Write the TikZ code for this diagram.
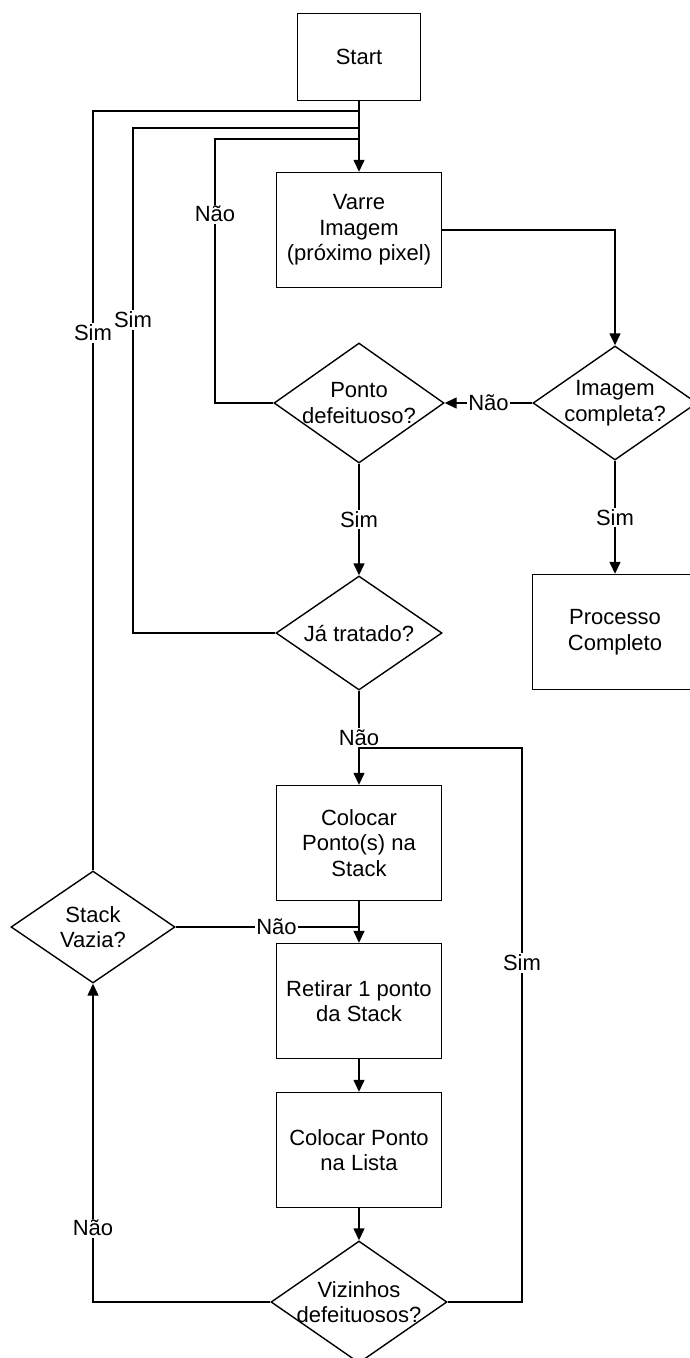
\documentclass[tikz,border=0pt]{standalone}
\usepackage{fontspec}
\setmainfont{Liberation Sans}
\usetikzlibrary{shapes.geometric,arrows.meta}
\definecolor{ink}{HTML}{000000}
\newcommand\flowfont{\fontsize{22}{25.5}\selectfont}
\tikzset{
  box/.style={draw=ink, line width=1.4pt, rectangle, inner sep=0pt, minimum width=165pt, minimum height=115pt, align=center, font=\flowfont},
  dec/.style={draw=ink, line width=1.4pt, diamond, inner sep=0pt, minimum width=166pt, minimum height=114pt},
  dtext/.style={align=center, font=\flowfont, inner sep=0pt},
  link/.style={draw=ink, line width=1.4pt},
  flow/.style={link, -{Triangle[length=12pt,width=11pt]}},
  lab/.style={fill=white, inner sep=1.5pt, font=\flowfont},
}

\begin{document}
\begin{tikzpicture}[x=1pt,y=-1pt]
  \useasboundingbox (0,0) rectangle (689,1358);
  % blocks
  \node[box,minimum width=123pt,minimum height=87pt] (start) at (359,57) {Start};
  \node[box] (varre) at (359,230) {Varre\\Imagem\\(próximo pixel)};
  \node[dec,minimum width=170pt,minimum height=120pt,label={[dtext]center:{Ponto\\defeituoso?}}] (ponto) at (359,403) {};
  \node[dec,minimum width=164pt,label={[dtext]center:{Imagem\\completa?}}] (imagem) at (615,403) {};
  \node[dec,label={[dtext]center:{Já tratado?}}] (tratado) at (359,633) {};
  \node[box] (fim) at (615,632) {Processo\\Completo};
  \node[box] (pilha) at (359,843) {Colocar\\Ponto(s) na\\Stack};
  \node[box] (retira) at (359,1001) {Retirar 1 ponto\\da Stack};
  \node[box] (lista) at (359,1150) {Colocar Ponto\\na Lista};
  \node[dec,minimum width=176pt,minimum height=122pt,label={[dtext]center:{Vizinhos\\defeituosos?}}] (viz) at (359,1302) {};
  \node[dec,minimum width=164pt,minimum height=112pt,label={[dtext]center:{Stack\\Vazia?}}] (vazia) at (93,927) {};

  % junctions on the main line
  \coordinate (jA) at (359,111);
  \coordinate (jB) at (359,128);
  \coordinate (jC) at (359,139);
  \coordinate (jD) at (359,748);
  \coordinate (jE) at (359,927);

  % connectors
  \draw[flow] (start) -- (varre);
  \draw[link] (vazia.north) -- (93,333) node[lab] (s1) {Sim} |- (jA);
  \draw[link] (tratado.west) -| (133,320) node[lab] (s2) {Sim} |- (jB);
  \draw[link] (ponto.west) -| (215,214) node[lab] (n1) {Não} |- (jC);
  \draw[flow] (varre.east) -| (imagem.north);
  \draw[flow] (imagem.west) -- node[lab] (n2) {Não} (ponto.east);
  \draw[flow] (imagem.south) -- node[lab] (s3) {Sim} (fim.north);
  \draw[flow] (ponto.south) -- node[lab] (s4) {Sim} (tratado.north);
  \draw[flow] (tratado.south) -- node[lab] (n3) {Não} (pilha.north);
  \draw[link] (viz.east) -| (522,963) node[lab] (s5) {Sim} |- (jD);
  \draw[flow] (pilha) -- (retira);
  \draw[link] (vazia.east) -- node[lab,pos=0.55] (n4) {Não} (jE);
  \draw[flow] (retira) -- (lista);
  \draw[flow] (lista) -- (viz);
  \draw[flow] (viz.west) -| (93,1228) node[lab] (n5) {Não} -- (vazia.south);
\end{tikzpicture}
\end{document}
